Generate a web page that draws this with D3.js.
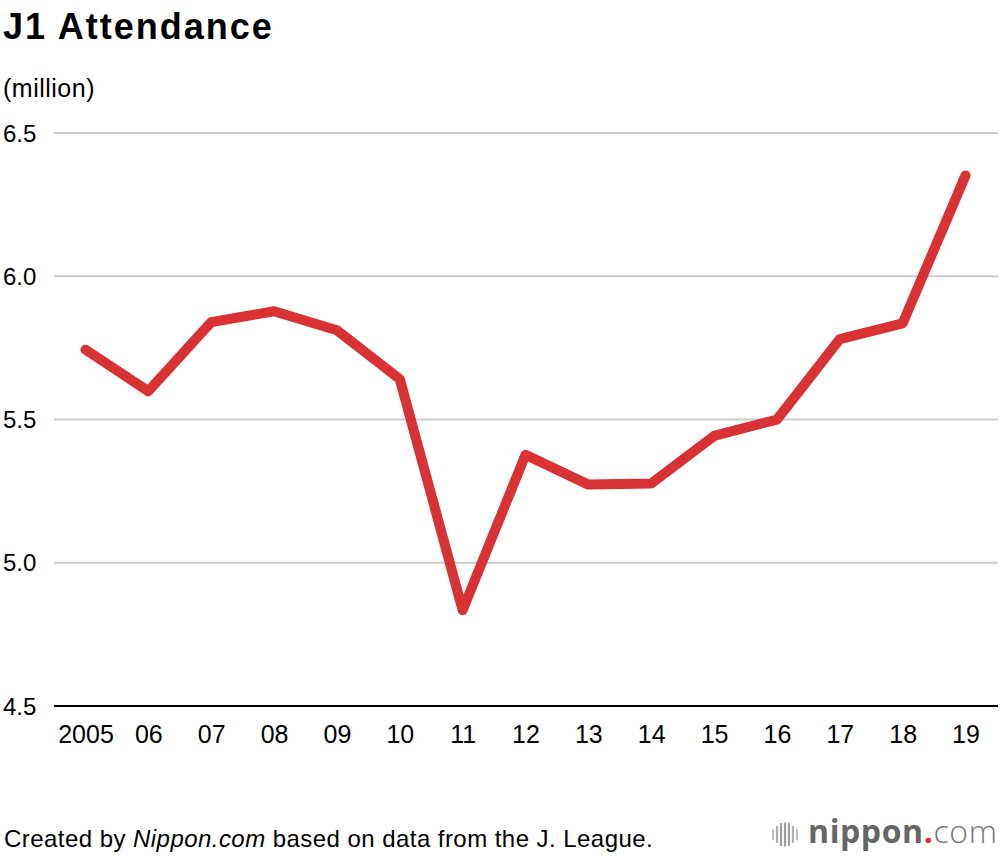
<!DOCTYPE html>
<html>
<head>
<meta charset="utf-8">
<script src="https://cdn.jsdelivr.net/npm/d3@7"></script>
<style>
  html, body { margin: 0; padding: 0; background: #fff; }
  svg { display: block; font-family: "Liberation Sans", Arial, Helvetica, sans-serif; }
</style>
</head>
<body>
<svg id="chart" width="1000" height="856"></svg>
<script>
// ---- data ----
const years = ["2005","06","07","08","09","10","11","12","13","14","15","16","17","18","19"];
const attendance = [5.742, 5.597, 5.838, 5.876, 5.810, 5.639, 4.833, 5.375, 5.271, 5.275, 5.441, 5.498, 5.779, 5.834, 6.350];
const yTicks = [4.5, 5.0, 5.5, 6.0, 6.5];
const title = "J1 Attendance";
const unitLabel = "(million)";
const logoBars = [0.45, 0.7, 0.95, 1.0, 0.95, 0.7, 0.45]; // decorative logo wave

// ---- layout ----
const svg = d3.select("#chart");
const x = d3.scalePoint().domain(years).range([85.5, 965.5]);
const y = d3.scaleLinear().domain([4.5, 6.5]).range([705.5, 132.5]);
const gridX0 = 54, gridX1 = 998;

// title
svg.append("text").attr("x", 3).attr("y", 39)
  .attr("font-size", 36).attr("font-weight", "bold").attr("letter-spacing", 2)
  .attr("fill", "#000").text(title);

svg.append("text").attr("x", 3).attr("y", 97)
  .attr("font-size", 25).attr("letter-spacing", 0.5).attr("fill", "#000").text(unitLabel);

// y axis grid + labels
const yAxis = d3.axisLeft(y).tickValues(yTicks).tickSize(0).tickPadding(0)
  .tickFormat(d3.format(".1f"));
const gy = svg.append("g").call(yAxis);
gy.select(".domain").remove();
gy.selectAll(".tick line").remove();
gy.selectAll(".tick").each(function(d) {
  const t = d3.select(this);
  t.append("line").attr("x1", gridX0).attr("x2", gridX1)
    .attr("stroke", d === 4.5 ? "#000" : "#cccccc")
    .attr("stroke-width", 2);
});
gy.selectAll(".tick text")
  .attr("x", 3).attr("dy", "0.36em").attr("text-anchor", "start")
  .attr("font-size", 24).attr("font-family", "Liberation Sans, Arial, sans-serif")
  .attr("fill", "#000");

// x axis labels
const xAxis = d3.axisBottom(x).tickSize(0).tickPadding(0);
const gx = svg.append("g").attr("transform", `translate(0,${y(4.5)})`).call(xAxis);
gx.select(".domain").remove();
gx.selectAll(".tick text")
  .attr("y", 37).attr("dy", 0)
  .attr("font-size", 25).attr("font-family", "Liberation Sans, Arial, sans-serif")
  .attr("fill", "#000");

// line
const line = d3.line().x((d, i) => x(years[i])).y(d => y(d));
svg.append("path").datum(attendance)
  .attr("d", line).attr("fill", "none")
  .attr("stroke", "#d93234").attr("stroke-width", 10)
  .attr("stroke-linejoin", "round").attr("stroke-linecap", "round");

// footer
const foot = svg.append("text").attr("x", 4).attr("y", 847)
  .attr("font-size", 24).attr("letter-spacing", 0.45).attr("fill", "#000");
foot.append("tspan").text("Created by ");
foot.append("tspan").attr("font-style", "italic").text("Nippon.com");
foot.append("tspan").text(" based on data from the J. League.");

// logo
const lg = svg.append("g");
const bx = d3.scaleBand().domain(d3.range(logoBars.length)).range([772, 798]).paddingInner(0.45);
lg.selectAll("rect").data(logoBars).join("rect")
  .attr("x", (d, i) => bx(i)).attr("width", bx.bandwidth())
  .attr("y", d => 834.5 - d * 12).attr("height", d => d * 24)
  .attr("fill", (d) => d3.interpolateRgb("#dddddd", "#9a9a9a")(d));
const lt = lg.append("text").attr("x", 808).attr("y", 843)
  .attr("font-family", "'Open Sans', sans-serif").attr("font-size", 32).attr("letter-spacing", 0.6).attr("fill", "#666");
lt.append("tspan").attr("font-weight", "bold").text("nippon");
lt.append("tspan").attr("fill", "#e8242c").attr("font-weight", "bold").text(".");
lt.append("tspan").attr("font-weight", 300).attr("fill", "#777").text("com");
</script>
</body>
</html>
